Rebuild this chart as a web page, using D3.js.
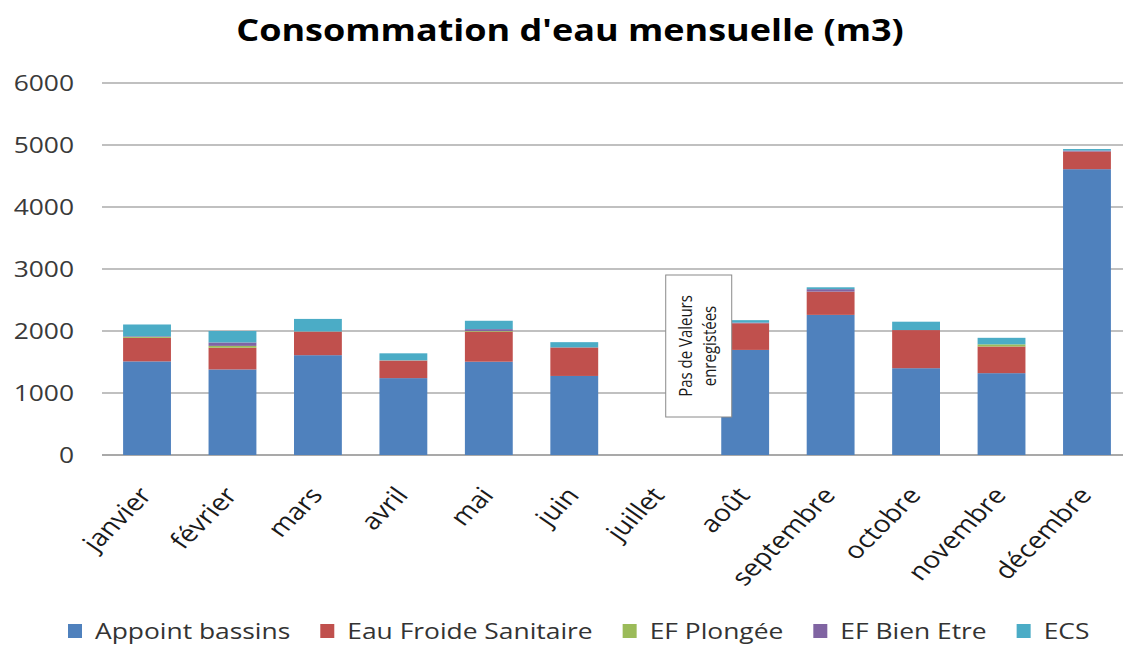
<!DOCTYPE html>
<html>
<head>
<meta charset="utf-8">
<script src="https://cdn.jsdelivr.net/npm/d3@7"></script>
<style>
  html, body { margin: 0; padding: 0; background: #fff; }
  svg { display: block; }
  text { font-family: "Open Sans", "DejaVu Sans", sans-serif; }
</style>
</head>
<body>
<svg id="chart" width="1123" height="646"></svg>
<script>
// ---- data ----
const categories = ["janvier", "février", "mars", "avril", "mai", "juin", "juillet", "août", "septembre", "octobre", "novembre", "décembre"];
const seriesNames = ["Appoint bassins", "Eau Froide Sanitaire", "EF Plongée", "EF Bien Etre", "ECS"];
const appointBassins   = [1510, 1380, 1610, 1240, 1505, 1275, 0, 1695, 2260, 1400, 1320, 4610];
const eauFroideSanit   = [ 380,  350,  375,  280,  485,  460, 0,  430,  375,  615,  430,  285];
const efPlongee        = [  15,   30,    5,    5,   10,    0, 0,    0,    0,    0,   35,    0];
const efBienEtre       = [  10,   55,    5,    5,   30,    0, 0,   10,   40,    0,    0,   15];
const ecs              = [ 190,  185,  200,  110,  135,   85, 0,   40,   30,  135,  105,   25];
const yTicks = [0, 1000, 2000, 3000, 4000, 5000, 6000];
const chartTitle = "Consommation d'eau mensuelle (m3)";
const noteLines = ["Pas de Valeurs", "enregistées"];
const noteCategory = "juillet";
const colors = ["#4F81BD", "#C0504D", "#9BBB59", "#8064A2", "#4BACC6"];

// ---- build ----
const seriesArrays = [appointBassins, eauFroideSanit, efPlongee, efBienEtre, ecs];
const rows = categories.map((c, i) => {
  const r = { cat: c };
  seriesNames.forEach((s, j) => r[s] = seriesArrays[j][i]);
  return r;
});
const stacked = d3.stack().keys(seriesNames)(rows);

const S = 1.2; // horizontal stretch of the original picture
const svg = d3.select("#chart");
svg.append("rect").attr("width", 1123).attr("height", 646).attr("fill", "#fff");

const x = d3.scaleBand().domain(categories).range([104.3, 1129.7]).paddingInner(0.44).paddingOuter(0.22);
const y = d3.scaleLinear().domain([0, 6000]).range([455, 83]);
const color = d3.scaleOrdinal().domain(seriesNames).range(colors);

// gridlines
svg.append("g").selectAll("line").data(yTicks).join("line")
  .attr("x1", 102).attr("x2", 1123)
  .attr("y1", d => y(d)).attr("y2", d => y(d))
  .attr("stroke", d => d === 0 ? "#8c8c8c" : "#ababab")
  .attr("stroke-width", 1.4);

// y tick labels
svg.append("g").selectAll("g").data(yTicks).join("g")
  .attr("transform", d => `translate(74,${y(d)}) scale(${S},1)`)
  .append("text")
  .attr("text-anchor", "end").attr("dy", "0.36em")
  .attr("font-size", 22).attr("fill", "#3a3a3a")
  .text(d => d);

// bars
svg.append("g").selectAll("g").data(stacked).join("g")
  .attr("fill", d => color(d.key))
  .selectAll("rect").data(d => d.filter(p => p[1] - p[0] > 0)).join("rect")
  .attr("x", d => x(d.data.cat))
  .attr("width", x.bandwidth())
  .attr("y", d => y(d[1]))
  .attr("height", d => y(d[0]) - y(d[1]));

// x labels
svg.append("g").selectAll("g").data(categories).join("g")
  .attr("transform", d => `translate(${x(d) + x.bandwidth() / 2 + 6},${496}) scale(${S},1) rotate(-50)`)
  .append("text")
  .attr("text-anchor", "end")
  .attr("font-size", 23.5).attr("fill", "#1a1a1a")
  .text(d => d);

// note box
const nx = x(noteCategory) + x.bandwidth() / 2;
svg.append("rect")
  .attr("x", nx + 6).attr("y", 275).attr("width", 66).attr("height", 142)
  .attr("fill", "#fff").attr("stroke", "#8a8a8a").attr("stroke-width", 1);
const ng = svg.append("g").attr("transform", `translate(${nx + 39},346) scale(${S},1) rotate(-90)`);
ng.selectAll("text").data(noteLines).join("text")
  .attr("text-anchor", "middle")
  .attr("y", (d, i) => -5.5 + i * 20)
  .attr("font-size", 15).attr("fill", "#1a1a1a")
  .text(d => d);

// title
svg.append("g").attr("transform", `translate(570,41) scale(${S},1)`)
  .append("text").attr("text-anchor", "middle")
  .attr("font-size", 30).attr("font-weight", "bold").attr("fill", "#000")
  .text(chartTitle);

// legend
let lx = 68;
const legend = svg.append("g");
seriesNames.forEach((s, i) => {
  legend.append("rect").attr("x", lx).attr("y", 624).attr("width", 14).attr("height", 14).attr("fill", color(s));
  const g = legend.append("g").attr("transform", `translate(${lx + 27},639) scale(${S},1)`);
  const t = g.append("text").attr("font-size", 22).attr("fill", "#333").text(s);
  const w = t.node().getComputedTextLength() * S;
  lx += 27 + w + 30;
});
</script>
</body>
</html>
